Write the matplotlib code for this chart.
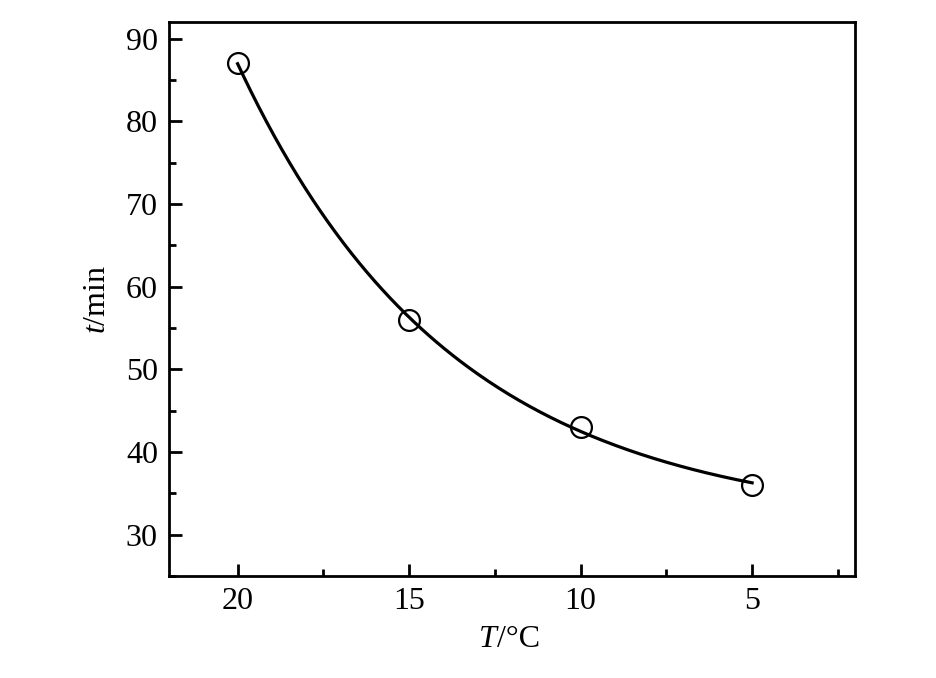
import matplotlib
matplotlib.use('Agg')
import matplotlib.pyplot as plt
from matplotlib.ticker import MultipleLocator
import numpy as np

# data
temp = [20, 15, 10, 5]          # T / degC
time_min = [87, 56, 43, 36]     # t / min

plt.rcParams['font.family'] = ['Liberation Serif', 'Noto Sans CJK SC', 'DejaVu Sans']
plt.rcParams['mathtext.fontset'] = 'custom'
plt.rcParams['mathtext.it'] = 'Liberation Serif:italic'
plt.rcParams['mathtext.rm'] = 'Liberation Serif'

fig = plt.figure(figsize=(9.37, 6.78), dpi=100)
ax = fig.add_axes([0.1804, 0.1504, 0.7321, 0.8172])

# exponential trend line y = c + a*exp(b*x), least squares over a grid of b
x = np.array(temp, float)
y = np.array(time_min, float)
best = None
for b in np.linspace(0.01, 0.5, 2000):
    A = np.column_stack([np.ones_like(x), np.exp(b * x)])
    sol, res, *_ = np.linalg.lstsq(A, y, rcond=None)
    err = np.sum((A @ sol - y) ** 2)
    if best is None or err < best[0]:
        best = (err, b, sol)
_, b, (c, a) = best
xs = np.linspace(min(temp), max(temp), 200)
ax.plot(xs, c + a * np.exp(b * xs), color='black', lw=2.3)
ax.plot(temp, time_min, 'o', mfc='none', mec='black', ms=15, mew=1.6)

ax.set_xlim(22, 2)
ax.set_ylim(25, 92)
ax.xaxis.set_major_locator(MultipleLocator(5))
ax.xaxis.set_minor_locator(MultipleLocator(2.5))
ax.yaxis.set_major_locator(MultipleLocator(10))
ax.yaxis.set_minor_locator(MultipleLocator(5))

for s in ax.spines.values():
    s.set_linewidth(2.0)
ax.tick_params(which='both', direction='in', top=False, right=False,
               labelsize=23, width=2.0, pad=8)
ax.tick_params(which='major', length=9)
ax.tick_params(which='minor', length=5)

# x label: italic T, upright /°C
ax.text(0.478, -0.115, 'T', transform=ax.transAxes, fontsize=23,
        style='italic', ha='right', va='center')
ax.text(0.478, -0.115, '/°C', transform=ax.transAxes, fontsize=23,
        ha='left', va='center')
ax.set_ylabel(r'$t$/min', fontsize=23, labelpad=10)

fig.savefig('out.png', dpi=100)
